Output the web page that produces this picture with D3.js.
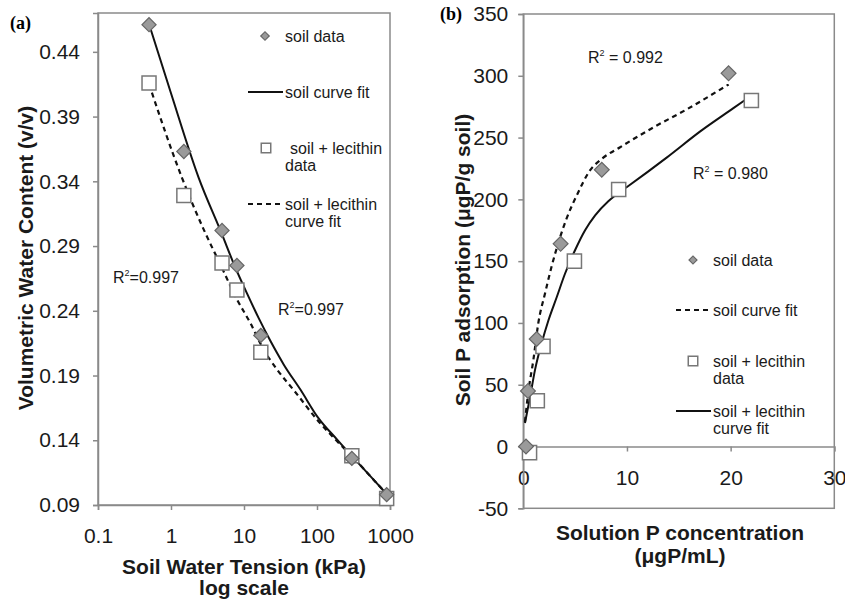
<!DOCTYPE html>
<html>
<head>
<meta charset="utf-8">
<script src="https://cdn.jsdelivr.net/npm/d3@7"></script>
<style>
  body { margin: 0; background: #fff; }
  svg { font-family: "Liberation Sans", Arial, sans-serif; }
</style>
</head>
<body>
<svg width="845" height="601"></svg>
<script>
// ---- panel (a): water retention ----
const tensionKPa = [0.5, 1.5, 5, 8, 17, 300, 900];
const soilTheta = [0.461, 0.363, 0.302, 0.275, 0.221, 0.126, 0.098];
const lecithinTheta = [0.416, 0.329, 0.277, 0.256, 0.208, 0.128, 0.095];

const soilFitTension = [0.5, 1.0, 2.39, 5, 7.22, 11.03, 15.9, 23.05, 35.1, 59.5, 101, 190, 305, 545, 925];
const soilFitTheta = [0.4615, 0.408, 0.3429, 0.299, 0.2765, 0.2532, 0.2343, 0.2166, 0.1984, 0.179, 0.1583, 0.1403, 0.1274, 0.1119, 0.0977];
const lecFitTension = [0.5, 1.41, 1.94, 2.8, 4.74, 8.03, 12.2, 18.6, 28.5, 50, 100, 190, 305, 545, 925];
const lecFitTheta = [0.4151, 0.3429, 0.3235, 0.3029, 0.2758, 0.2487, 0.2306, 0.21, 0.1945, 0.1775, 0.156, 0.139, 0.1274, 0.1119, 0.0977];

const tensionTicks = [0.1, 1, 10, 100, 1000];
const thetaTicks = [0.09, 0.14, 0.19, 0.24, 0.29, 0.34, 0.39, 0.44];

// ---- panel (b): P adsorption ----
const soilConc = [0.26, 0.45, 1.29, 3.6, 7.57, 19.8];
const soilAds = [0, 45, 87, 164, 224, 302];
const lecConc = [0.6, 1.35, 1.9, 4.93, 9.2, 22.0];
const lecAds = [-5, 37, 81, 150, 208, 280];

const soilPFitConc = [0.16, 0.45, 0.97, 1.45, 2.1, 2.74, 3.5, 4.2, 5.2, 6.4, 7.6, 9.3, 12.5, 15.8, 19.8];
const soilPFitAds = [20, 42, 70, 100, 124, 146, 168, 185, 204, 223, 233, 242, 258, 273, 293];
const lecPFitConc = [0.16, 0.65, 1.13, 1.78, 2.42, 3.23, 4.03, 5.0, 5.96, 6.93, 8.2, 9.0, 10, 13.86, 17.07, 20.3, 22.0];
const lecPFitAds = [19, 40, 62, 84, 102, 121, 140, 159, 175, 187, 198.5, 204, 210, 234, 255, 274, 284];

const concTicks = [0, 10, 20, 30];
const adsTicks = [-50, 0, 50, 100, 150, 200, 250, 300, 350];

const svg = d3.select("svg");
const boxColor = "#8a8a8a";
const labelColor = "#1a1a1a";

function zip(xs, ys) { return xs.map((x, i) => ({x: x, y: ys[i]})); }

function diamond(g, x, y, size) {
  g.append("path")
    .attr("d", d3.symbol(d3.symbolSquare, size)())
    .attr("transform", "translate(" + x + "," + y + ") rotate(45)")
    .attr("fill", "#9a9a9a")
    .attr("stroke", "#666")
    .attr("stroke-width", 1.2);
}
function square(g, x, y, size) {
  g.append("path")
    .attr("d", d3.symbol(d3.symbolSquare, size)())
    .attr("transform", "translate(" + x + "," + y + ")")
    .attr("fill", "#fff")
    .attr("stroke", "#777")
    .attr("stroke-width", 1.5);
}
function styleAxis(sel) {
  sel.selectAll("path.domain").attr("stroke", boxColor).attr("stroke-width", 1.5);
  sel.selectAll(".tick line").attr("stroke", boxColor).attr("stroke-width", 1.5);
  sel.selectAll(".tick text").attr("fill", labelColor).style("font-size", "21px");
}
function rsq(g, x, y, txt) {
  let t = g.append("text").attr("x", x).attr("y", y)
    .style("font-size", "16px").attr("fill", labelColor);
  t.append("tspan").text("R");
  t.append("tspan").attr("dy", -7).style("font-size", "9px").text("2");
  t.append("tspan").attr("dy", 7).text(txt);
}
function legendText(g, x, y, lines) {
  lines.forEach(function(s, i) {
    g.append("text").attr("x", x).attr("y", y + i * 17)
      .attr("dy", "0.35em").style("font-size", "16px")
      .attr("fill", labelColor).text(s);
  });
}
function title(g, x, y, s, rotate) {
  g.append("text").attr("text-anchor", "middle")
    .attr("transform", "translate(" + x + "," + y + ")" + (rotate ? " rotate(-90)" : ""))
    .style("font-weight", "bold").style("font-size", "21px").attr("fill", labelColor)
    .text(s);
}

// ================= panel (a) =================
var ga = svg.append("g");
var xa = d3.scaleLog().domain([0.1, 1000]).range([98, 390]);
var ya = d3.scaleLinear().domain([0.09, 0.47]).range([505, 13]);

ga.append("rect").attr("x", 98).attr("y", 13).attr("width", 292).attr("height", 492)
  .attr("fill", "none").attr("stroke", boxColor).attr("stroke-width", 1.5);

var axA = ga.append("g").attr("transform", "translate(0,505)")
  .call(d3.axisBottom(xa).tickValues(tensionTicks).tickSize(5).tickPadding(18)
    .tickFormat(d3.format("~g")));
styleAxis(axA);
var ayA = ga.append("g").attr("transform", "translate(98,0)")
  .call(d3.axisLeft(ya).tickValues(thetaTicks).tickSize(5).tickPadding(13)
    .tickFormat(d3.format(".2f")));
styleAxis(ayA);

var lineA = d3.line().x(d => xa(d.x)).y(d => ya(d.y)).curve(d3.curveMonotoneX);
ga.append("path").datum(zip(lecFitTension, lecFitTheta)).attr("d", lineA)
  .attr("fill", "none").attr("stroke", "#111").attr("stroke-width", 2.2)
  .attr("stroke-dasharray", "5,4");
ga.append("path").datum(zip(soilFitTension, soilFitTheta)).attr("d", lineA)
  .attr("fill", "none").attr("stroke", "#111").attr("stroke-width", 2);

tensionKPa.forEach(function(t, i) { square(ga, xa(t), ya(lecithinTheta[i]), 196); });
tensionKPa.forEach(function(t, i) { diamond(ga, xa(t), ya(soilTheta[i]), 100); });

// legend (a)
diamond(ga, 265, 36, 36);
legendText(ga, 285, 36, ["soil data"]);
ga.append("line").attr("x1", 248).attr("x2", 283).attr("y1", 92).attr("y2", 92)
  .attr("stroke", "#111").attr("stroke-width", 2);
legendText(ga, 285, 92, ["soil curve fit"]);
square(ga, 266, 148, 90);
legendText(ga, 290, 148, ["soil + lecithin"]);
legendText(ga, 285, 165, ["data"]);
ga.append("line").attr("x1", 248).attr("x2", 283).attr("y1", 204).attr("y2", 204)
  .attr("stroke", "#111").attr("stroke-width", 2).attr("stroke-dasharray", "5,4");
legendText(ga, 285, 204, ["soil + lecithin", "curve fit"]);

rsq(ga, 113, 283, "=0.997");
rsq(ga, 278, 315, "=0.997");

ga.append("text").attr("x", 10).attr("y", 29)
  .style("font-family", "'Liberation Serif', 'Times New Roman', serif")
  .style("font-weight", "bold").style("font-size", "18px").text("(a)");

title(ga, 33, 258, "Volumetric Water Content (v/v)", true);
title(ga, 244, 574, "Soil Water Tension (kPa)");
title(ga, 244, 595, "log scale");

// ================= panel (b) =================
var gb = svg.append("g");
var xb = d3.scaleLinear().domain([0, 30]).range([523.3, 834.3]);
var yb = d3.scaleLinear().domain([-50, 350]).range([508.3, 14]);

gb.append("rect").attr("x", 523.3).attr("y", 14).attr("width", 311).attr("height", 494.3)
  .attr("fill", "none").attr("stroke", boxColor).attr("stroke-width", 1.5);

var axB = gb.append("g").attr("transform", "translate(0," + yb(0) + ")")
  .call(d3.axisBottom(xb).tickValues(concTicks).tickSize(5).tickPadding(19));
styleAxis(axB);
var ayB = gb.append("g").attr("transform", "translate(523.3,0)")
  .call(d3.axisLeft(yb).tickValues(adsTicks).tickSize(5).tickPadding(10)
    .tickFormat(d => String(d)));
styleAxis(ayB);

var lineB = d3.line().x(d => xb(d.x)).y(d => yb(d.y)).curve(d3.curveMonotoneX);
gb.append("path").datum(zip(soilPFitConc, soilPFitAds)).attr("d", lineB)
  .attr("fill", "none").attr("stroke", "#111").attr("stroke-width", 2.2)
  .attr("stroke-dasharray", "5,4");
gb.append("path").datum(zip(lecPFitConc, lecPFitAds)).attr("d", lineB)
  .attr("fill", "none").attr("stroke", "#111").attr("stroke-width", 2);

lecConc.forEach(function(c, i) { square(gb, xb(c), yb(lecAds[i]), 200); });
soilConc.forEach(function(c, i) { diamond(gb, xb(c), yb(soilAds[i]), 110); });

// legend (b)
diamond(gb, 693, 260, 32);
legendText(gb, 713, 260, ["soil data"]);
gb.append("line").attr("x1", 676).attr("x2", 711).attr("y1", 310).attr("y2", 310)
  .attr("stroke", "#111").attr("stroke-width", 2).attr("stroke-dasharray", "5,4");
legendText(gb, 713, 310, ["soil curve fit"]);
square(gb, 693, 361, 90);
legendText(gb, 713, 361, ["soil + lecithin", "data"]);
gb.append("line").attr("x1", 676).attr("x2", 711).attr("y1", 411).attr("y2", 411)
  .attr("stroke", "#111").attr("stroke-width", 2);
legendText(gb, 713, 411, ["soil + lecithin", "curve fit"]);

rsq(gb, 588, 63, " = 0.992");
rsq(gb, 693, 179, " = 0.980");

gb.append("text").attr("x", 440).attr("y", 20)
  .style("font-family", "'Liberation Serif', 'Times New Roman', serif")
  .style("font-weight", "bold").style("font-size", "18px").text("(b)");

title(gb, 470, 260, "Soil P adsorption (μgP/g soil)", true);
title(gb, 680, 540, "Solution P concentration");
title(gb, 680, 563, "(μgP/mL)");
</script>
</body>
</html>
